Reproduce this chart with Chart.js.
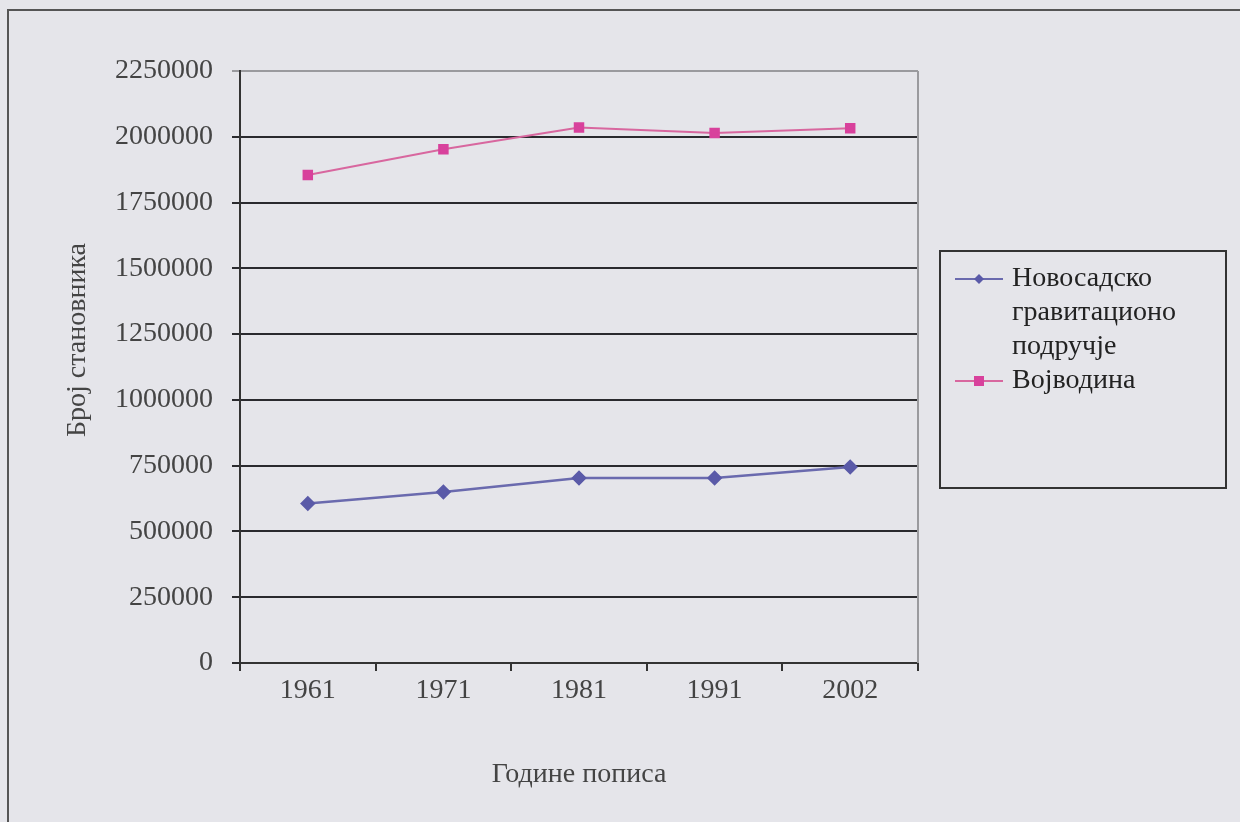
<!DOCTYPE html>
<html>
<head>
<meta charset="utf-8">
<script src="https://cdn.jsdelivr.net/npm/chart.js@4.4.1/dist/chart.umd.min.js"></script>
<style>
  html, body { margin: 0; padding: 0; background: #e5e5ea; }
  #wrap { width: 1240px; height: 822px; position: relative; }
</style>
</head>
<body>
<div id="wrap"><canvas id="chart" width="1240" height="822"></canvas></div>
<script>
// podaci sa grafikona
const years = ["1961", "1971", "1981", "1991", "2002"];
const noviSad = [606000, 650000, 703000, 703000, 745000];
const vojvodina = [1855000, 1953000, 2035000, 2014000, 2032000];
const yTicks = [0, 250000, 500000, 750000, 1000000, 1250000, 1500000, 1750000, 2000000, 2250000];
const seriesNames = [["Новосадско", "гравитационо", "подручје"], ["Војводина"]];
const xTitle = "Године пописа";
const yTitle = "Број становника";

const serif = "'Liberation Serif', 'DejaVu Serif', serif";
const $chart = document.getElementById("chart").getContext("2d");

// okvir, desna ivica, naslov y ose i legenda
const framePlugin = {
  id: "frame",
  beforeDraw(chart) {
    const ctx = chart.ctx;
    ctx.save();
    ctx.strokeStyle = "#555";
    ctx.lineWidth = 2;
    ctx.strokeRect(8, 10, 1250, 830);
    ctx.restore();
  },
  afterDraw(chart) {
    const ctx = chart.ctx;
    const area = chart.chartArea;
    ctx.save();
    // desna ivica plot oblasti
    ctx.strokeStyle = "#9a9a9e";
    ctx.lineWidth = 2;
    ctx.beginPath();
    ctx.moveTo(area.right, area.top);
    ctx.lineTo(area.right, area.bottom);
    ctx.stroke();

    // naslov y ose
    ctx.fillStyle = "#444";
    ctx.font = "28px " + serif;
    ctx.textAlign = "center";
    ctx.textBaseline = "middle";
    ctx.translate(78, 340);
    ctx.rotate(-Math.PI / 2);
    ctx.fillText(yTitle, 0, 0);
    ctx.restore();

    // legenda
    ctx.save();
    ctx.strokeStyle = "#333";
    ctx.lineWidth = 2;
    ctx.strokeRect(940, 251, 286, 237);
    ctx.font = "28px " + serif;
    ctx.textAlign = "left";
    ctx.textBaseline = "middle";
    let y = 279;
    chart.data.datasets.forEach((ds, i) => {
      ctx.strokeStyle = ds.borderColor;
      ctx.lineWidth = 2;
      ctx.beginPath();
      ctx.moveTo(955, y);
      ctx.lineTo(1003, y);
      ctx.stroke();
      ctx.fillStyle = ds.pointBackgroundColor;
      if (ds.pointStyle === "rect") {
        ctx.fillRect(974, y - 5, 10, 10);
      } else {
        ctx.beginPath();
        ctx.moveTo(979, y - 5);
        ctx.lineTo(984, y);
        ctx.lineTo(979, y + 5);
        ctx.lineTo(974, y);
        ctx.closePath();
        ctx.fill();
      }
      ctx.fillStyle = "#222";
      seriesNames[i].forEach((line) => {
        ctx.fillText(line, 1012, y);
        y += 34;
      });
    });
    ctx.restore();
  },
};

const chartOption = {
  type: "line",
  data: {
    labels: years,
    datasets: [
      {
        label: seriesNames[0].join(" "),
        data: noviSad,
        borderColor: "#6a6aae",
        backgroundColor: "#5a5aa8",
        pointBackgroundColor: "#5a5aa8",
        pointBorderColor: "#5a5aa8",
        pointStyle: "rectRot",
        pointRadius: 6,
        borderWidth: 2.5,
        tension: 0,
      },
      {
        label: seriesNames[1][0],
        data: vojvodina,
        borderColor: "#d8679f",
        backgroundColor: "#d8419c",
        pointBackgroundColor: "#d8419c",
        pointBorderColor: "#d8419c",
        pointStyle: "rect",
        pointRadius: 6,
        borderWidth: 2,
        tension: 0,
      },
    ],
  },
  options: {
    responsive: false,
    animation: false,
    layout: { padding: { left: 0, top: 71, right: 322, bottom: 0 } },
    plugins: {
      legend: { display: false },
      tooltip: { enabled: false },
    },
    scales: {
      x: {
        offset: true,
        grid: {
          offset: true,
          drawOnChartArea: false,
          drawTicks: true,
          tickLength: 8,
          color: "#333",
          lineWidth: 2,
        },
        border: { color: "#333", width: 2 },
        ticks: {
          color: "#444",
          font: { family: serif, size: 28 },
          padding: 3,
          maxRotation: 0,
        },
        title: {
          display: true,
          text: xTitle,
          color: "#444",
          font: { family: serif, size: 28 },
          padding: { top: 4, bottom: 31 },
        },
        afterFit(scale) {
          scale.height = 159;
        },
      },
      y: {
        min: 0,
        max: 2250000,
        afterBuildTicks(scale) {
          scale.ticks = yTicks.map((v) => ({ value: v }));
        },
        grid: {
          color: (c) => (c.tick && c.tick.value === 2250000 ? "#9a9a9e" : "#2a2a2e"),
          lineWidth: 2,
          tickLength: 8,
        },
        border: { color: "#333", width: 2 },
        ticks: {
          color: "#444",
          font: { family: serif, size: 28 },
          padding: 19,
          callback: (value) => String(value),
        },
        afterFit(scale) {
          scale.width = 240;
        },
      },
    },
  },
  plugins: [framePlugin],
};

new Chart($chart, chartOption);
</script>
</body>
</html>
